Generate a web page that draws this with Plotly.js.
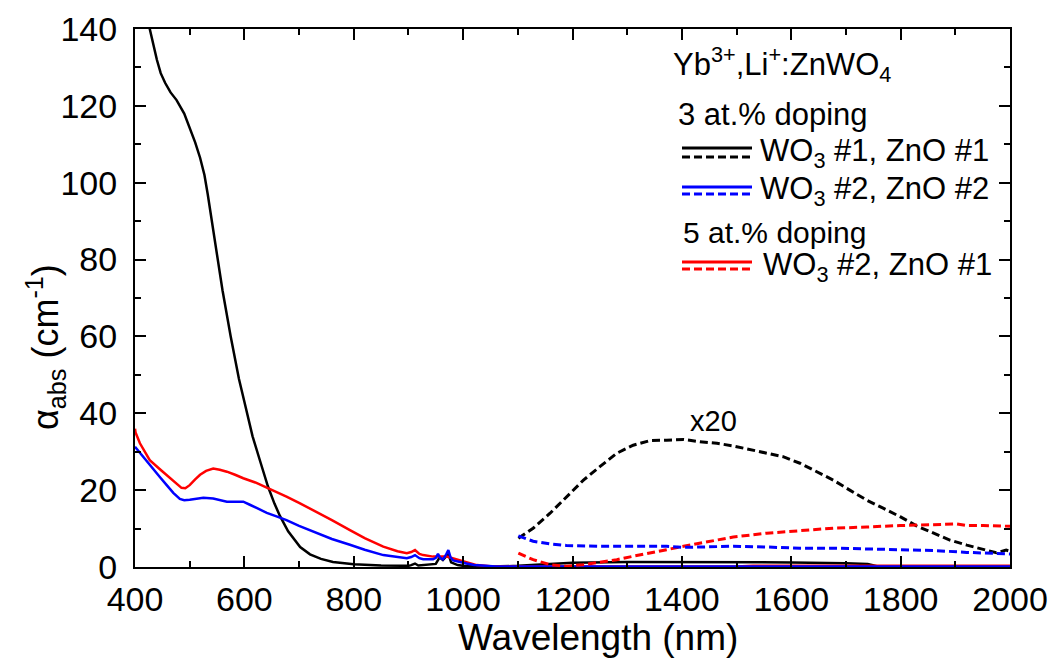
<!DOCTYPE html>
<html>
<head>
<meta charset="utf-8">
<script src="https://cdn.plot.ly/plotly-3.0.1.min.js"></script>
<style>html,body{margin:0;padding:0;background:#fff;}#chart{width:1057px;height:659px;}</style>
</head>
<body>
<div id="chart"></div>
<script>
// ---------- data ----------
// 3 at.% doping, WO3 #1, ZnO #1 (black, solid)
const blackSolidX = [400,410,420,427,433,440,447,455,465,476,490,500,510,519,527,533,545,560,575,590,600,615,630,643,655,665,680,702,720,740,762,800,850,900,905,912,918,950,957,963,973,978,990,1000,1050,1100,1150,1200,1300,1400,1500,1600,1700,1740,1760,1800,2000];
const blackSolidY = [170,158,147,140,136,132,128.5,126,123.5,121.5,118,114.5,110.5,106.5,102,97,86,72,60,49,43,34,27,21,16.5,13.3,9.3,5.2,3.3,2.1,1.3,0.7,0.4,0.3,0.5,0.9,0.4,0.8,2.5,1.8,3.4,1.2,0.5,0.3,0.1,0.3,0.7,1.1,1.3,1.3,1.3,1.2,1.0,0.8,0.1,0.1,0.1];
// 5 at.% doping, WO3 #2, ZnO #1 (red, solid)
const redSolidX = [400,401,409,427,445,458,470,485,492,500,510,519,530,543,555,568,583,598,620,641,660,677,700,732,760,793,820,854,880,897,905,912,920,927,945,970,994,1010,1025,1050,1070,1100,1500,1530,2000];
const redSolidY = [36,35,32.2,27.8,25.5,23.9,22.2,20.6,20.5,21.3,22.8,24,25,25.6,25.3,24.8,24,23.1,22,20.7,19.5,18.3,16.7,14.4,12.2,9.6,7.5,5.3,4.1,3.6,3.9,4.4,3.4,3.1,2.7,2.7,1.8,1.0,0.5,0.2,0.1,0.1,0.1,0.3,0.3];
// 3 at.% doping, WO3 #2, ZnO #2 (blue, solid)
const blueSolidX = [400,410,427,445,458,470,482,490,500,512,525,543,555,568,585,598,610,622,641,660,677,700,732,760,793,820,854,880,897,905,912,920,927,945,950,954,958,963,968,973,977,982,995,1006,1020,1037,1060,1100,2000];
const blueSolidY = [31.3,29.5,26.5,23.5,21.3,19.3,17.7,17.4,17.5,17.8,18.0,17.8,17.4,17.0,17.0,17.0,16.2,15.3,14.1,13.1,12.2,10.7,8.8,7.3,5.8,4.5,3.1,2.6,2.3,2.6,3.1,2.3,2.0,2.0,2.4,3.4,2.4,2.0,3.0,4.4,2.5,1.7,1.2,0.9,0.5,0.3,0.15,0.1,0.1];
// x20 magnified NIR parts (dashed)
const blackDashX = [1101,1128,1159,1189,1220,1250,1281,1311,1342,1372,1403,1433,1464,1494,1525,1555,1585,1616,1646,1677,1707,1738,1768,1799,1829,1860,1890,1921,1951,1975,1993,2000];
const blackDashY = [7.5,10.1,14.0,18.3,22.6,26.1,29.6,31.7,32.9,33.0,33.2,32.6,32.2,31.5,30.6,29.7,28.7,27.0,24.8,22.6,20.0,17.4,15.3,13.1,10.7,8.8,7.0,5.7,4.6,3.7,4.4,4.1];
const blueDashX = [1101,1128,1159,1189,1250,1311,1372,1403,1433,1494,1555,1616,1677,1738,1799,1860,1921,1982,2000];
const blueDashY = [8.1,6.7,6.0,5.6,5.4,5.4,5.4,5.1,5.2,5.4,5.2,4.9,4.9,4.7,4.5,4.3,3.8,3.5,3.4];
const redDashX = [1101,1128,1159,1189,1220,1250,1281,1311,1342,1372,1403,1433,1464,1494,1555,1616,1677,1738,1799,1860,1903,1921,1951,2000];
const redDashY = [3.6,1.9,0.6,0.2,0.6,1.2,1.9,2.8,3.6,4.5,5.4,6.2,7.1,7.8,8.8,9.5,10.1,10.4,10.8,11.0,11.2,10.8,10.8,10.6];

const xTickVals = [400,600,800,1000,1200,1400,1600,1800,2000];
const yTickVals = [0,20,40,60,80,100,120,140];

const legendTitle = 'Yb<sup>3+</sup>,Li<sup>+</sup>:ZnWO<sub>4</sub>';
const groupLabels = ['3 at.% doping', '5 at.% doping'];
const seriesLabels = ['WO<sub>3</sub> #1, ZnO #1', 'WO<sub>3</sub> #2, ZnO #2', 'WO<sub>3</sub> #2, ZnO #1'];
const seriesColors = ['#000000', '#0000ff', '#ff0000'];

// ---------- plot ----------
const FONT = 'Liberation Sans, Arial, sans-serif';
const LW = 2.5;
const DASH = '8px,4px';

const traces = [
  {x: blackSolidX, y: blackSolidY, mode: 'lines', line: {color: seriesColors[0], width: LW}},
  {x: redSolidX, y: redSolidY, mode: 'lines', line: {color: seriesColors[2], width: LW}},
  {x: blueSolidX, y: blueSolidY, mode: 'lines', line: {color: seriesColors[1], width: LW}},
  {x: blackDashX, y: blackDashY, mode: 'lines', line: {color: seriesColors[0], width: 3, dash: DASH}},
  {x: redDashX, y: redDashY, mode: 'lines', line: {color: seriesColors[2], width: 3, dash: DASH}},
  {x: blueDashX, y: blueDashY, mode: 'lines', line: {color: seriesColors[1], width: 3, dash: DASH}}
];

// plot area in pixels: x 135..1010, y 29..567
const L = 135, R = 1010, T = 29, B = 567;
const px = v => (v - L) / (R - L);
const py = v => (B - v) / (B - T);

const shapes = [];
const legendRows = [ [148,157], [187,194], [262,269] ];
legendRows.forEach((r, i) => {
  shapes.push({type:'line', xref:'paper', yref:'paper', x0:px(682), x1:px(752), y0:py(r[0]), y1:py(r[0]), line:{color:seriesColors[i], width:3}});
  shapes.push({type:'line', xref:'paper', yref:'paper', x0:px(682), x1:px(752), y0:py(r[1]), y1:py(r[1]), line:{color:seriesColors[i], width:3, dash:'8px,4px'}});
});

const ann = (text, x, y, size, extra) => Object.assign({text, x:px(x), y:py(y), xref:'paper', yref:'paper', xanchor:'left', yanchor:'middle', showarrow:false, font:{family:FONT, size, color:'#000'}}, extra || {});

const annotations = [
  ann(legendTitle, 671, 64, 31),
  ann(groupLabels[0], 676, 115, 31),
  ann(seriesLabels[0], 758, 153, 31),
  ann(seriesLabels[1], 758, 191, 31),
  ann(groupLabels[1], 681, 232, 30),
  ann(seriesLabels[2], 761, 267, 31),
  {text:'x20', x:1458, y:38, xref:'x', yref:'y', xanchor:'center', yanchor:'middle', showarrow:false, font:{family:FONT, size:29, color:'#000'}},
  ann('Wavelength (nm)', 598, 637, 37, {xanchor:'center'}),
  ann('α<sub>abs</sub> (cm<sup>-1</sup>)', 45, 347, 36, {xanchor:'center', textangle:-90})
];

const axisCommon = {
  showgrid:false, zeroline:false, showline:true, linecolor:'#000', linewidth:2,
  mirror:'ticks', ticks:'inside', ticklen:11, tickwidth:2, tickcolor:'#000',
  tickfont:{family:FONT, size:34, color:'#000'}
};

const layout = {
  width:1057, height:659,
  margin:{l:L, r:1057-R, t:T, b:659-B, pad:0},
  paper_bgcolor:'#fff', plot_bgcolor:'#fff',
  showlegend:false,
  xaxis: Object.assign({}, axisCommon, {range:[400,2000], tickmode:'array', tickvals:xTickVals, ticktext:xTickVals.map(String),
    minor:{dtick:100, tick0:400, ticks:'inside', ticklen:6, tickwidth:2, tickcolor:'#000'}, ticklabelstandoff:1}),
  yaxis: Object.assign({}, axisCommon, {range:[0,140], tickmode:'array', tickvals:yTickVals, ticktext:yTickVals.map(String),
    minor:{dtick:10, tick0:0, ticks:'inside', ticklen:6, tickwidth:2, tickcolor:'#000'}, ticklabelstandoff:9}),
  shapes, annotations
};

Plotly.newPlot('chart', traces, layout, {staticPlot:true, displayModeBar:false});
</script>
</body>
</html>
